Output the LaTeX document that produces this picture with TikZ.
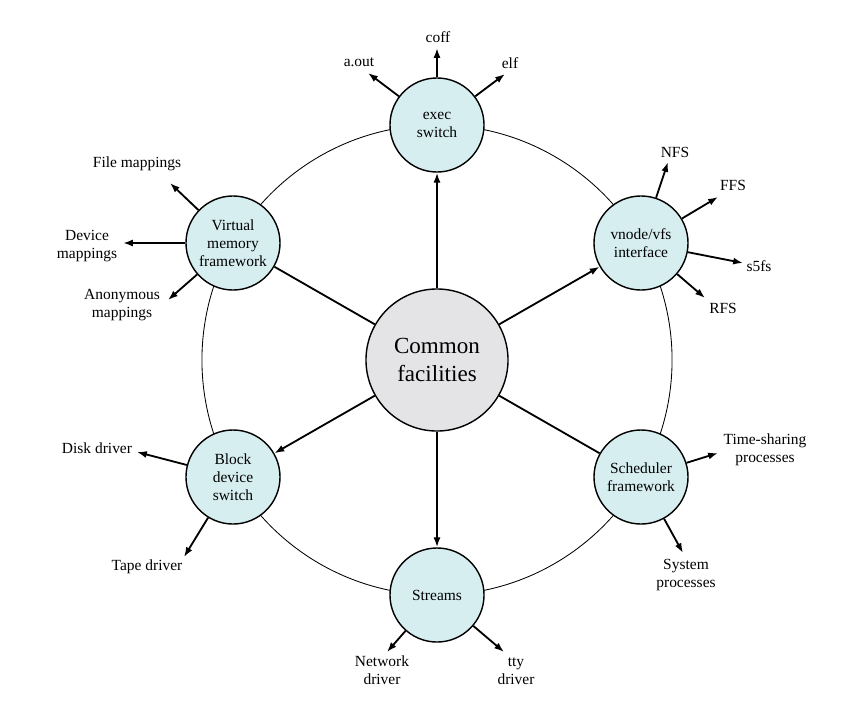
\documentclass[tikz,border=0pt]{standalone}
\usepackage{fontspec}
\setmainfont{Liberation Serif}
\usetikzlibrary{arrows.meta}
\definecolor{modfill}{RGB}{214,238,240}
\definecolor{corefill}{RGB}{228,228,230}
\tikzset{
	module/.style={circle,draw,line width=1pt,fill=modfill,minimum size=2.35cm,inner sep=0pt,align=center,font=\fontsize{11}{12.8}\selectfont},
	core/.style={circle,draw,line width=1pt,fill=corefill,minimum size=3.55cm,inner sep=0pt,align=center,font=\fontsize{16.4}{19.5}\selectfont},
	leaf/.style={inner sep=0pt,align=center,font=\fontsize{11}{12.8}\selectfont},
	link/.style={line width=1.3pt},
	feed/.style={link,-{Latex[length=7pt,width=5pt]}}
}
\begin{document}
\begin{tikzpicture}
\begin{scope}[x=.025cm,y=-.025cm]
	\useasboundingbox (0,0) rectangle (846,711);
	\coordinate (hub) at (437,360);
	\draw[line width=.6pt] (hub) circle[radius=5.875cm];
	\node[core] (cf) at (hub) {Common\\facilities};
	\node[module] (exec) at (437,125) {exec\\switch};
	\node[module] (vm) at (233,243) {Virtual\\memory\\framework};
	\node[module] (vfs) at (641,243) {vnode/vfs\\interface};
	\node[module] (bdev) at (233,477) {Block\\device\\switch};
	\node[module] (sched) at (641,477) {Scheduler\\framework};
	\node[module] (strm) at (437,595) {Streams};
	\foreach \m in {exec,vfs,bdev,strm}
		\draw[feed] (cf) -- (\m);
	\draw[link] (cf) -- (vm);
	\draw[link] (cf) -- (sched);
	% exec switch
	\node[leaf] (coff) at (438,37) {coff};
	\node[leaf] (aout) at (359,62) {a.out};
	\node[leaf] (elf) at (510,63) {elf};
	\coordinate (cofftip) at (437,48);
	\coordinate (aouttip) at (368,73);
	\coordinate (elftip) at (505,74);
	\draw[feed] (exec) -- (cofftip);
	\draw[feed] (exec) -- (aouttip);
	\draw[feed] (exec) -- (elftip);
	% virtual memory
	\node[leaf] (filemap) at (137,164) {File mappings};
	\node[leaf] (devmap) at (87,246) {Device\\mappings};
	\node[leaf] (anonmap) at (122,305) {Anonymous\\mappings};
	\coordinate (filetip) at (170,183);
	\coordinate (devtip) at (123,243);
	\coordinate (anontip) at (168,300);
	\draw[feed] (vm) -- (filetip);
	\draw[feed] (vm) -- (devtip);
	\draw[feed] (vm) -- (anontip);
	% vnode/vfs
	\node[leaf] (nfs) at (675,152) {NFS};
	\node[leaf] (ffs) at (733,185) {FFS};
	\node[leaf] (sfs) at (759,266) {s5fs};
	\node[leaf] (rfs) at (723,308) {RFS};
	\coordinate (nfstip) at (668,162);
	\coordinate (ffstip) at (718,197);
	\coordinate (sfstip) at (743,263);
	\coordinate (rfstip) at (705,298);
	\draw[feed] (vfs) -- (nfstip);
	\draw[feed] (vfs) -- (ffstip);
	\draw[feed] (vfs) -- (sfstip);
	\draw[feed] (vfs) -- (rfstip);
	% block device switch
	\node[leaf] (disk) at (97,448) {Disk driver};
	\node[leaf] (tape) at (147,567) {Tape driver};
	\coordinate (disktip) at (137,452);
	\coordinate (tapetip) at (184,557);
	\draw[feed] (bdev) -- (disktip);
	\draw[feed] (bdev) -- (tapetip);
	% scheduler
	\node[leaf] (tshare) at (765,450) {Time-sharing\\processes};
	\node[leaf] (sysproc) at (686,575) {System\\processes};
	\coordinate (tsharetip) at (718,453);
	\coordinate (sysproctip) at (683,553);
	\draw[feed] (sched) -- (tsharetip);
	\draw[feed] (sched) -- (sysproctip);
	% streams
	\node[leaf] (netdrv) at (382,670) {Network\\driver};
	\node[leaf] (ttydrv) at (516,671) {tty\\driver};
	\coordinate (nettip) at (387,652);
	\coordinate (ttytip) at (504,652);
	\draw[feed] (strm) -- (nettip);
	\draw[feed] (strm) -- (ttytip);
\end{scope}
\end{tikzpicture}
\end{document}
